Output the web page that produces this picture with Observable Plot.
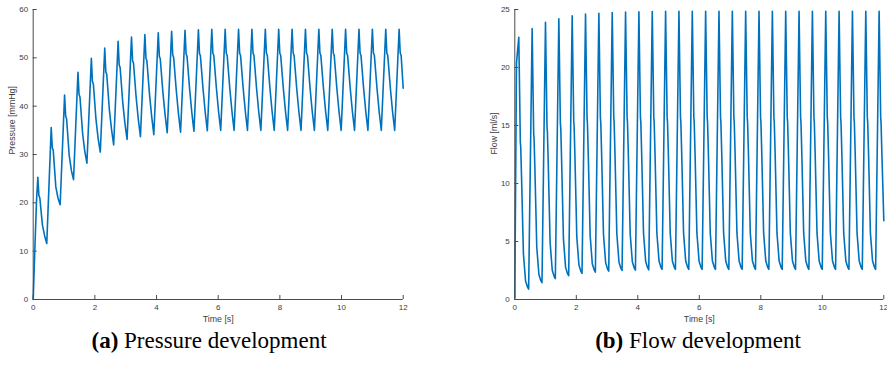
<!DOCTYPE html>
<html><head><meta charset="utf-8">
<script src="https://cdn.jsdelivr.net/npm/d3@7"></script>
<script src="https://cdn.jsdelivr.net/npm/@observablehq/plot@0.6"></script>
<style>
html,body{margin:0;padding:0;background:#fff;}
#wrap{position:relative;width:887px;height:382px;overflow:hidden;background:#fff;}
.panel{position:absolute;top:0;}
.cap{position:absolute;font-family:"Liberation Serif","Times New Roman",serif;font-size:23px;color:#000;white-space:nowrap;transform:translateX(-50%);line-height:1;}
</style></head><body>
<div id="wrap">
  <div class="panel" id="p1" style="left:0px"></div>
  <div class="panel" id="p2" style="left:443px"></div>
  <div class="cap" style="left:209px;top:329px"><b>(a)</b> Pressure development</div>
  <div class="cap" style="left:698px;top:329px"><b>(b)</b> Flow development</div>
</div>
<script>
// ---- tick values ----
const timeTicks = [0, 2, 4, 6, 8, 10, 12];
const pressureTicks = [0, 10, 20, 30, 40, 50, 60];
const flowTicks = [0, 5, 10, 15, 20, 25];

// ---- pressure series (time [s], pressure [mmHg]) ----
const pressureTime = [
  0, 0.05, 0.108,
  0.150, 0.185, 0.215, 0.300, 0.370, 0.440,
  0.584, 0.619, 0.649, 0.734, 0.804, 0.874,
  1.018, 1.053, 1.083, 1.168, 1.238, 1.308,
  1.452, 1.487, 1.517, 1.602, 1.672, 1.742,
  1.886, 1.921, 1.951, 2.036, 2.106, 2.176,
  2.320, 2.355, 2.385, 2.470, 2.540, 2.610,
  2.754, 2.789, 2.819, 2.904, 2.974, 3.044,
  3.188, 3.223, 3.253, 3.338, 3.408, 3.478,
  3.622, 3.657, 3.687, 3.772, 3.842, 3.912,
  4.056, 4.091, 4.121, 4.206, 4.276, 4.346,
  4.490, 4.525, 4.555, 4.640, 4.710, 4.780,
  4.924, 4.959, 4.989, 5.074, 5.144, 5.214,
  5.358, 5.393, 5.423, 5.508, 5.578, 5.648,
  5.792, 5.827, 5.857, 5.942, 6.012, 6.082,
  6.226, 6.261, 6.291, 6.376, 6.446, 6.516,
  6.660, 6.695, 6.725, 6.810, 6.880, 6.950,
  7.094, 7.129, 7.159, 7.244, 7.314, 7.384,
  7.528, 7.563, 7.593, 7.678, 7.748, 7.818,
  7.962, 7.997, 8.027, 8.112, 8.182, 8.252,
  8.396, 8.431, 8.461, 8.546, 8.616, 8.686,
  8.830, 8.865, 8.895, 8.980, 9.050, 9.120,
  9.264, 9.299, 9.329, 9.414, 9.484, 9.554,
  9.698, 9.733, 9.763, 9.848, 9.918, 9.988,
  10.132, 10.167, 10.197, 10.282, 10.352, 10.422,
  10.566, 10.601, 10.631, 10.716, 10.786, 10.856,
  11.000, 11.035, 11.065, 11.150, 11.220, 11.290,
  11.434, 11.469, 11.499, 11.584, 11.654, 11.724,
  11.868, 11.903, 11.933, 12.000
];
const pressureValue = [
  0, 9.8, 20.5,
  25.3, 21.5, 21.0, 15.4, 13.2, 11.6,
  35.6, 31.4, 30.9, 23.3, 21.0, 19.6,
  42.3, 37.9, 37.4, 29.8, 26.7, 24.8,
  47.0, 42.4, 41.9, 34.4, 30.7, 28.2,
  49.9, 45.1, 44.6, 37.3, 33.3, 30.5,
  52.0, 47.1, 46.6, 39.3, 35.2, 32.0,
  53.4, 48.5, 48.0, 40.8, 36.5, 33.1,
  54.3, 49.4, 48.9, 41.9, 37.3, 33.7,
  54.8, 49.9, 49.4, 42.5, 37.9, 34.1,
  55.2, 50.3, 49.8, 42.9, 38.3, 34.5,
  55.5, 50.6, 50.1, 43.3, 38.5, 34.6,
  55.7, 50.8, 50.3, 43.5, 38.7, 34.8,
  55.8, 50.9, 50.4, 43.6, 38.8, 34.9,
  55.9, 51.0, 50.5, 43.7, 38.9, 35.0,
  55.9, 51.0, 50.5, 43.7, 38.9, 35.0,
  55.9, 51.0, 50.5, 43.7, 38.9, 35.0,
  55.9, 51.0, 50.5, 43.7, 38.9, 35.0,
  55.9, 51.0, 50.5, 43.7, 38.9, 35.0,
  55.9, 51.0, 50.5, 43.7, 38.9, 35.0,
  55.9, 51.0, 50.5, 43.7, 38.9, 35.0,
  55.9, 51.0, 50.5, 43.7, 38.9, 35.0,
  55.9, 51.0, 50.5, 43.7, 38.9, 35.0,
  55.9, 51.0, 50.5, 43.7, 38.9, 35.0,
  55.9, 51.0, 50.5, 43.7, 38.9, 35.0,
  55.9, 51.0, 50.5, 43.7, 38.9, 35.0,
  55.9, 51.0, 50.5, 43.7, 38.9, 35.0,
  55.9, 51.0, 50.5, 43.7, 38.9, 35.0,
  55.9, 51.0, 50.5, 43.7
];

// ---- flow series (time [s], flow [ml/s]) ----
const flowTime = [
  0, 0.055,
  0.130, 0.180, 0.192, 0.220, 0.280, 0.350, 0.410, 0.450,
  0.564, 0.614, 0.626, 0.654, 0.714, 0.784, 0.844, 0.884,
  0.998, 1.048, 1.060, 1.088, 1.148, 1.218, 1.278, 1.318,
  1.432, 1.482, 1.494, 1.522, 1.582, 1.652, 1.712, 1.752,
  1.866, 1.916, 1.928, 1.956, 2.016, 2.086, 2.146, 2.186,
  2.300, 2.350, 2.362, 2.390, 2.450, 2.520, 2.580, 2.620,
  2.734, 2.784, 2.796, 2.824, 2.884, 2.954, 3.014, 3.054,
  3.168, 3.218, 3.230, 3.258, 3.318, 3.388, 3.448, 3.488,
  3.602, 3.652, 3.664, 3.692, 3.752, 3.822, 3.882, 3.922,
  4.036, 4.086, 4.098, 4.126, 4.186, 4.256, 4.316, 4.356,
  4.470, 4.520, 4.532, 4.560, 4.620, 4.690, 4.750, 4.790,
  4.904, 4.954, 4.966, 4.994, 5.054, 5.124, 5.184, 5.224,
  5.338, 5.388, 5.400, 5.428, 5.488, 5.558, 5.618, 5.658,
  5.772, 5.822, 5.834, 5.862, 5.922, 5.992, 6.052, 6.092,
  6.206, 6.256, 6.268, 6.296, 6.356, 6.426, 6.486, 6.526,
  6.640, 6.690, 6.702, 6.730, 6.790, 6.860, 6.920, 6.960,
  7.074, 7.124, 7.136, 7.164, 7.224, 7.294, 7.354, 7.394,
  7.508, 7.558, 7.570, 7.598, 7.658, 7.728, 7.788, 7.828,
  7.942, 7.992, 8.004, 8.032, 8.092, 8.162, 8.222, 8.262,
  8.376, 8.426, 8.438, 8.466, 8.526, 8.596, 8.656, 8.696,
  8.810, 8.860, 8.872, 8.900, 8.960, 9.030, 9.090, 9.130,
  9.244, 9.294, 9.306, 9.334, 9.394, 9.464, 9.524, 9.564,
  9.678, 9.728, 9.740, 9.768, 9.828, 9.898, 9.958, 9.998,
  10.112, 10.162, 10.174, 10.202, 10.262, 10.332, 10.392, 10.432,
  10.546, 10.596, 10.608, 10.636, 10.696, 10.766, 10.826, 10.866,
  10.980, 11.030, 11.042, 11.070, 11.130, 11.200, 11.260, 11.300,
  11.414, 11.464, 11.476, 11.504, 11.564, 11.634, 11.694, 11.734,
  11.848, 11.898, 11.910, 11.938, 12.000
];
const flowValue = [
  0.2, 20.4,
  22.6, 13.56, 13.2, 10.5, 3.94, 1.60, 1.09, 0.90,
  23.35, 14.28, 13.9, 11.2, 4.53, 2.16, 1.64, 1.45,
  23.9, 14.85, 14.45, 11.72, 4.93, 2.52, 2.0, 1.8,
  24.2, 15.19, 14.8, 12.04, 5.2, 2.77, 2.25, 2.05,
  24.45, 15.42, 15.0, 12.26, 5.41, 2.97, 2.45, 2.25,
  24.6, 15.57, 15.17, 12.4, 5.53, 3.09, 2.56, 2.36,
  24.67, 15.65, 15.25, 12.48, 5.62, 3.18, 2.65, 2.45,
  24.73, 15.7, 15.3, 12.53, 5.67, 3.23, 2.7, 2.5,
  24.78, 15.7, 15.3, 12.54, 5.69, 3.25, 2.73, 2.53,
  24.8, 15.7, 15.3, 12.55, 5.71, 3.28, 2.76, 2.56,
  24.83, 15.7, 15.3, 12.56, 5.74, 3.32, 2.8, 2.6,
  24.85, 15.7, 15.3, 12.56, 5.74, 3.32, 2.8, 2.6,
  24.85, 15.7, 15.3, 12.56, 5.74, 3.32, 2.8, 2.6,
  24.85, 15.7, 15.3, 12.56, 5.74, 3.32, 2.8, 2.6,
  24.85, 15.7, 15.3, 12.56, 5.74, 3.32, 2.8, 2.6,
  24.85, 15.7, 15.3, 12.56, 5.74, 3.32, 2.8, 2.6,
  24.85, 15.7, 15.3, 12.56, 5.74, 3.32, 2.8, 2.6,
  24.85, 15.7, 15.3, 12.56, 5.74, 3.32, 2.8, 2.6,
  24.85, 15.7, 15.3, 12.56, 5.74, 3.32, 2.8, 2.6,
  24.85, 15.7, 15.3, 12.56, 5.74, 3.32, 2.8, 2.6,
  24.85, 15.7, 15.3, 12.56, 5.74, 3.32, 2.8, 2.6,
  24.85, 15.7, 15.3, 12.56, 5.74, 3.32, 2.8, 2.6,
  24.85, 15.7, 15.3, 12.56, 5.74, 3.32, 2.8, 2.6,
  24.85, 15.7, 15.3, 12.56, 5.74, 3.32, 2.8, 2.6,
  24.85, 15.7, 15.3, 12.56, 5.74, 3.32, 2.8, 2.6,
  24.85, 15.7, 15.3, 12.56, 5.74, 3.32, 2.8, 2.6,
  24.85, 15.7, 15.3, 12.56, 5.74, 3.32, 2.8, 2.6,
  24.85, 15.7, 15.3, 12.56, 6.8
];

const pressureData = pressureTime.map((t, i) => ({t, v: pressureValue[i]}));
const flowData = flowTime.map((t, i) => ({t, v: flowValue[i]}));

const AXIS = "#4a4a4a", TXT = "#3c3c3c", LINE = "#0072BD";

function panel({data, yDomain, yTicks, yLabel, width, marginLeft, marginRight}) {
  const H = 330, mt = 9, mb = 31;
  const innerW = width - marginLeft - marginRight, innerH = H - mt - mb;
  return Plot.plot({
    width, height: H, marginLeft, marginRight, marginTop: mt, marginBottom: mb,
    style: {fontFamily: "'Liberation Sans', Arial, sans-serif", fontSize: "8px", color: TXT, background: "#fff", overflow: "visible"},
    x: {domain: [0, 12], label: null},
    y: {domain: yDomain, label: null},
    marks: [
      Plot.axisX(timeTicks, {tickSize: 0, tickPadding: 4.5, fontSize: 8, fill: TXT, label: null, tickFormat: d => String(d)}),
      Plot.axisY(yTicks, {tickSize: 0, tickPadding: 5, fontSize: 8, fill: TXT, label: null, tickFormat: d => String(d)}),
      Plot.tickX(timeTicks, {x: d => d, stroke: AXIS, strokeWidth: 1, insetTop: innerH - 4}),
      Plot.tickY(yTicks, {y: d => d, stroke: AXIS, strokeWidth: 1, insetRight: innerW - 4}),
      Plot.line(data, {x: "t", y: "v", stroke: LINE, strokeWidth: 1.6}),
      Plot.ruleX([0], {stroke: AXIS, strokeWidth: 1}),
      Plot.ruleY([yDomain[0]], {stroke: AXIS, strokeWidth: 1}),
      Plot.text(["Time [s]"], {frameAnchor: "bottom", dy: 22.7, fontSize: 8.8, fill: TXT}),
      Plot.text([yLabel], {frameAnchor: "left", dx: -21, rotate: -90, fontSize: 8.8, fill: TXT})
    ]
  });
}

document.getElementById("p1").appendChild(panel({
  data: pressureData, yDomain: [0, 60], yTicks: pressureTicks, yLabel: "Pressure [mmHg]",
  width: 443, marginLeft: 32.7, marginRight: 40.3
}));
document.getElementById("p2").appendChild(panel({
  data: flowData, yDomain: [0, 25], yTicks: flowTicks, yLabel: "Flow [ml/s]",
  width: 444, marginLeft: 71.3, marginRight: 3.7
}));
</script>
</body></html>
